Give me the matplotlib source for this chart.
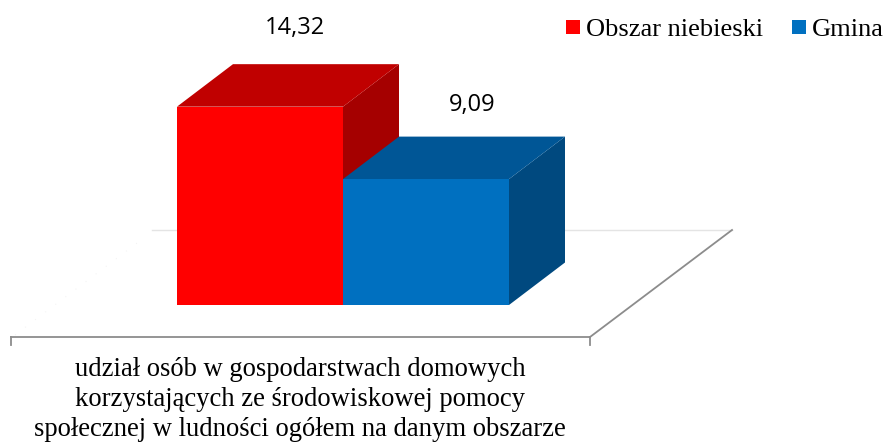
import matplotlib
matplotlib.use('Agg')
import matplotlib.pyplot as plt
from matplotlib.patches import Rectangle

series = ['Obszar niebieski', 'Gmina']
values = [14.32, 9.09]
value_labels = ['14,32', '9,09']
category = 'udział osób w gospodarstwach domowych\nkorzystających ze środowiskowej pomocy\nspołecznej w ludności ogółem na danym obszarze'

front_colors = ['#ff0000', '#0070c0']
top_colors = ['#c00000', '#005696']
side_colors = ['#a50000', '#00497f']

W, H = 885, 442
y_scale = 13.85  # pixels per unit
base_px = 305
bar_w = 166
dx = 56
dy = 42.5 / y_scale


def py(p):
    # picture row -> value
    return (base_px - p) / y_scale


fig = plt.figure(figsize=(8.85, 4.42), dpi=100)
ax = fig.add_axes([0, 0, 1, 1])
ax.set_xlim(0, W)
ax.set_ylim(py(H), py(0))
ax.axis('off')

# floor
ax.plot([152, 732], [py(230), py(230)], color='#e4e4e4', lw=1, zorder=1)
ax.plot([11, 590], [py(337), py(337)], color='#8c8c8c', lw=1.3, zorder=1)
ax.plot([590, 732], [py(337), py(230)], color='#8c8c8c', lw=1.3, zorder=1)
ax.plot([11, 11], [py(337), py(345)], color='#8c8c8c', lw=1.3, zorder=1)
ax.plot([590, 590], [py(337), py(345)], color='#8c8c8c', lw=1.3, zorder=1)
ax.plot([15, 145], [py(335), py(237)], color='#f2f2f2', lw=0.7, ls=(0, (1, 12)), zorder=1)

# bars, back to front so the red side is overlapped by the blue top
label_x = [295, 472]
label_y = [28, 105]
for i, v in enumerate(values):
    x0 = 177 + i * bar_w
    x1 = x0 + bar_w
    z = 2 + i
    ax.fill([x1, x1 + dx, x1 + dx, x1], [0, dy, v + dy, v], color=side_colors[i], lw=0, zorder=z)
    ax.fill([x0, x0 + dx, x1 + dx, x1], [v, v + dy, v + dy, v], color=top_colors[i], lw=0, zorder=z)
    ax.fill([x0, x1, x1, x0], [0, 0, v, v], color=front_colors[i], lw=0, zorder=z + 0.5)
    ax.text(label_x[i], py(label_y[i]), value_labels[i], ha='center', va='center',
            fontsize=17, family='Open Sans', color='#000000')

# legend
legend_x = [566, 792]
for name, c, lx in zip(series, front_colors, legend_x):
    ax.add_patch(Rectangle((lx, py(34)), 14, 14 / y_scale, color=c, lw=0, zorder=3))
    ax.text(lx + 20, py(30), name, ha='left', va='center', fontsize=19, family='Liberation Serif', color='#000000')

# category label
ax.text(300, py(399.5), category, ha='center', va='center', fontsize=19.2, family='Liberation Serif',
        color='#000000', linespacing=1.27)

fig.savefig('out.png', dpi=100)
